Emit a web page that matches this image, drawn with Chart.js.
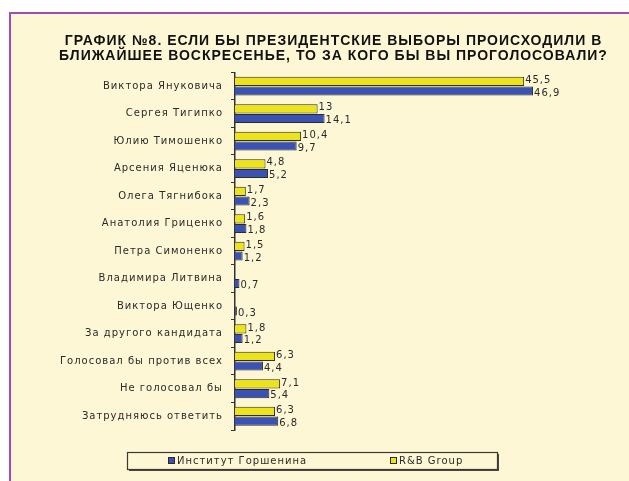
<!DOCTYPE html>
<html>
<head>
<meta charset="utf-8">
<script src="https://cdn.jsdelivr.net/npm/chart.js@4/dist/chart.umd.min.js"></script>
<style>
  html, body { margin: 0; padding: 0; background: #ffffff; }
  body { width: 629px; height: 481px; position: relative; overflow: hidden; }
  #frame {
    position: absolute; left: 9px; top: 12px; right: 0; bottom: 0;
    border-left: 2px solid #a04cb4; border-top: 2px solid #a04cb4;
    background: #fdf7d6;
  }
  #wrap { position: absolute; left: 0; top: 0; width: 629px; height: 481px; }
</style>
</head>
<body>
<div id="frame"></div>
<div id="wrap"><canvas id="pollChart" width="629" height="481"></canvas></div>
<script>
/* -------------------------------------------------------
   Data
------------------------------------------------------- */
const titleLines = [
  'ГРАФИК №8. ЕСЛИ БЫ ПРЕЗИДЕНТСКИЕ ВЫБОРЫ ПРОИСХОДИЛИ В',
  'БЛИЖАЙШЕЕ ВОСКРЕСЕНЬЕ, ТО ЗА КОГО БЫ ВЫ ПРОГОЛОСОВАЛИ?'
];
const candidates = [
  'Виктора Януковича', 'Сергея Тигипко', 'Юлию Тимошенко', 'Арсения Яценюка',
  'Олега Тягнибока', 'Анатолия Гриценко', 'Петра Симоненко', 'Владимира Литвина',
  'Виктора Ющенко', 'За другого кандидата', 'Голосовал бы против всех',
  'Не голосовал бы', 'Затрудняюсь ответить'
];
const rbGroup   = [45.5, 13, 10.4, 4.8, 1.7, 1.6, 1.5, null, null, 1.8, 6.3, 7.1, 6.3];
const gorshenin = [46.9, 14.1, 9.7, 5.2, 2.3, 1.8, 1.2, 0.7, 0.3, 1.2, 4.4, 5.4, 6.8];

/* -------------------------------------------------------
   Colors
------------------------------------------------------- */
const COLORS = {
  yellow: '#ece31a',
  blue:   '#3a52b4',
  edge:   '#2e2c1c',
  text:   '#2a2a2a',
  axis:   '#333333'
};

const fmt = v => String(v).replace('.', ',');

// value labels next to the bar ends
const valueLabels = {
  id: 'valueLabels',
  afterDatasetsDraw(chart) {
    const ctx = chart.ctx;
    ctx.save();
    ctx.font = '10px "DejaVu Sans", sans-serif';
    ctx.fillStyle = COLORS.text;
    ctx.textAlign = 'left';
    ctx.textBaseline = 'middle';
    chart.data.datasets.forEach((ds, i) => {
      const meta = chart.getDatasetMeta(i);
      meta.data.forEach((bar, j) => {
        const v = ds.data[j];
        if (v === null || v === undefined) return;
        const dy = i === 0 ? -1 : 2;
        ctx.fillText(fmt(v), bar.x + 1, bar.y + dy);
      });
    });
    ctx.restore();
  }
};

// boxed legend at the bottom, Горшенин listed first
const boxLegend = {
  id: 'boxLegend',
  afterDraw(chart) {
    const ctx = chart.ctx;
    const x = 127, y = 452, w = 370, h = 17;
    ctx.save();
    ctx.letterSpacing = '1px';
    ctx.fillStyle = '#4a4a40';
    ctx.fillRect(x + 2, y + 2, w, h);
    ctx.fillStyle = '#fdf7d6';
    ctx.fillRect(x, y, w, h);
    ctx.strokeStyle = '#3a3a30';
    ctx.lineWidth = 1.2;
    ctx.strokeRect(x + 0.5, y + 0.5, w, h);
    ctx.font = '10px "DejaVu Sans", sans-serif';
    ctx.textBaseline = 'middle';
    const items = [
      { ds: chart.data.datasets[1], mx: 168 },
      { ds: chart.data.datasets[0], mx: 390 }
    ];
    items.forEach(it => {
      ctx.fillStyle = it.ds.backgroundColor;
      ctx.fillRect(it.mx, y + 5, 6, 6);
      ctx.strokeStyle = COLORS.edge;
      ctx.lineWidth = 1;
      ctx.strokeRect(it.mx + 0.5, y + 5.5, 6, 6);
      ctx.fillStyle = COLORS.text;
      ctx.fillText(it.ds.label, it.mx + 9, y + h / 2 + 1);
    });
    ctx.restore();
  }
};

const spacing = {
  id: 'spacing',
  beforeDraw(chart) { chart.ctx.letterSpacing = '1px'; }
};

new Chart(document.getElementById('pollChart'), {
  type: 'bar',
  data: {
    labels: candidates,
    datasets: [
      {
        label: 'R&B Group',
        data: rbGroup,
        backgroundColor: COLORS.yellow,
        borderColor: COLORS.edge,
        borderWidth: 1,
        categoryPercentage: 0.7,
        barPercentage: 0.95
      },
      {
        label: 'Институт Горшенина',
        data: gorshenin,
        backgroundColor: COLORS.blue,
        borderColor: COLORS.edge,
        borderWidth: 1,
        categoryPercentage: 0.7,
        barPercentage: 0.95
      }
    ]
  },
  options: {
    indexAxis: 'y',
    responsive: false,
    animation: false,
    devicePixelRatio: 1,
    layout: { padding: { left: 38, right: 0, top: 0, bottom: 51 } },
    plugins: {
      legend: { display: false },
      tooltip: { enabled: false },
      title: {
        display: true,
        text: titleLines,
        color: '#111111',
        font: { family: '"Liberation Sans", Arial, sans-serif', size: 14, weight: 'bold', lineHeight: 1.05 },
        padding: { top: 34, bottom: 9 }
      }
    },
    scales: {
      x: { display: false, min: 0, max: 62 },
      y: {
        afterFit(scale) { scale.width = 197; },
        border: { display: true, color: COLORS.axis, width: 1.5 },
        grid: { display: true, drawOnChartArea: false, drawTicks: true, tickLength: 4, offset: true, color: COLORS.axis },
        ticks: {
          color: COLORS.text,
          padding: 8,
          font: { family: '"DejaVu Sans", sans-serif', size: 10 }
        }
      }
    }
  },
  plugins: [spacing, valueLabels, boxLegend]
});
</script>
</body>
</html>
